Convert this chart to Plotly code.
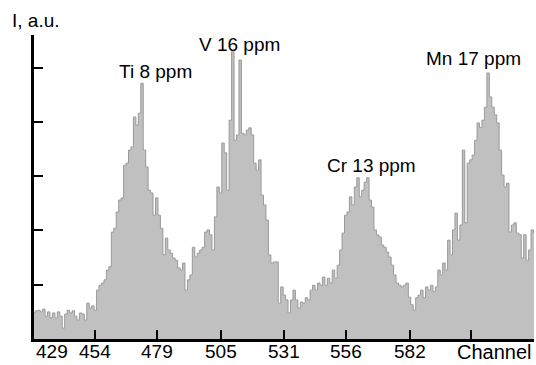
import plotly.graph_objects as go

# Channel numbers of the spectrum
channels = list(range(429, 634))

# Intensity (a.u., one y-axis tick = 100)
intensity = [
    48, 52, 53, 50, 55, 42, 50, 39, 48, 39, 50, 42, 20, 46, 53, 48, 52, 42, 35, 48,
    46, 35, 66, 57, 61, 53, 90, 99, 103, 109, 127, 133, 197, 204, 234, 256, 260, 320, 324, 348,
    354, 409, 394, 416, 471, 348, 317, 274, 269, 228, 260, 228, 204, 155, 186, 164, 158, 149, 145, 131,
    127, 140, 90, 109, 118, 169, 151, 158, 164, 169, 197, 201, 192, 164, 225, 280, 269, 361, 343, 274,
    403, 529, 366, 376, 514, 379, 376, 385, 389, 376, 324, 311, 330, 265, 247, 219, 155, 140, 142, 142,
    66, 96, 81, 72, 48, 72, 90, 72, 57, 68, 66, 76, 72, 90, 99, 90, 103, 99, 114, 99,
    112, 103, 127, 112, 136, 164, 195, 228, 234, 262, 247, 280, 297, 262, 274, 289, 297, 256, 243, 201,
    192, 188, 173, 169, 160, 151, 136, 118, 103, 99, 96, 99, 103, 77, 63, 53, 76, 81, 90, 76,
    96, 90, 99, 87, 96, 127, 118, 140, 127, 182, 155, 201, 232, 182, 210, 348, 214, 324, 330, 339,
    366, 398, 390, 403, 427, 490, 446, 427, 413, 398, 348, 302, 280, 287, 197, 210, 214, 195, 192, 149,
    192, 145, 164, 201, 195,
]

# Tick marks and labels on the channel axis
tick_channels = [454, 479, 505, 531, 556, 582, 607, 632.7]
label_channels = [429, 454, 479, 505, 531, 556, 582]
tick_labels = ["429", "454", "479", "505", "531", "556", "582"]
axis_name_x = "Channel"
axis_name_y = "I, a.u."

# Peak labels
peak_labels = ["Ti 8 ppm", "V 16 ppm", "Cr 13 ppm", "Mn 17 ppm"]
peak_label_x = [478.3, 512.9, 566.3, 608.2]
peak_label_y = [492, 543, 319, 516]

y_ticks = [100, 200, 300, 400, 500]

FONT = "Liberation Sans, Arial, sans-serif"

fig = go.Figure()
fig.add_trace(go.Scatter(
    x=channels, y=intensity, mode="lines", line_shape="hvh",
    line=dict(color="#9a9a9a", width=1),
    fill="tozeroy", fillcolor="#c0c0c0",
    hoverinfo="x+y", showlegend=False,
))

annotations = []
for txt, ax_, ay_ in zip(peak_labels, peak_label_x, peak_label_y):
    annotations.append(dict(x=ax_, y=ay_, xref="x", yref="y", text=txt,
                            showarrow=False, xanchor="center", yanchor="middle",
                            font=dict(family=FONT, size=19, color="black")))
for lab, ch in zip(tick_labels, label_channels):
    annotations.append(dict(x=ch, y=0, xref="x", yref="y", text=lab,
                            showarrow=False, xanchor="left" if ch == label_channels[0] else "center",
                            yanchor="top", yshift=0,
                            font=dict(family=FONT, size=19, color="black")))
annotations.append(dict(x=1, y=0, xref="paper", yref="y", text=axis_name_x,
                        showarrow=False, xanchor="right", yanchor="top", yshift=0,
                        font=dict(family=FONT, size=20, color="black")))
annotations.append(dict(x=0, y=1, xref="paper", yref="paper", text=axis_name_y,
                        showarrow=False, xanchor="left", yanchor="bottom", xshift=-24, yshift=2,
                        font=dict(family=FONT, size=19, color="black")))

fig.update_layout(
    width=536, height=365,
    margin=dict(l=34, r=2, t=35, b=26),
    paper_bgcolor="white", plot_bgcolor="white",
    annotations=annotations,
    xaxis=dict(range=[429, 632.7], tickmode="array", tickvals=tick_channels,
               showticklabels=False, ticks="inside", ticklen=9, tickwidth=2,
               tickcolor="black", showline=True, linecolor="black", linewidth=2.5,
               showgrid=False, zeroline=False, automargin=False),
    yaxis=dict(range=[0, 560], tickmode="array", tickvals=y_ticks,
               ticks="inside", ticklen=9, tickwidth=2, tickcolor="black",
               showticklabels=False, showline=True, linecolor="black", linewidth=2.5,
               showgrid=False, zeroline=False, automargin=False),
)

fig.write_html("out.html", config={"displayModeBar": False},
               post_script="document.body.style.margin='0';document.body.style.overflow='hidden';")
